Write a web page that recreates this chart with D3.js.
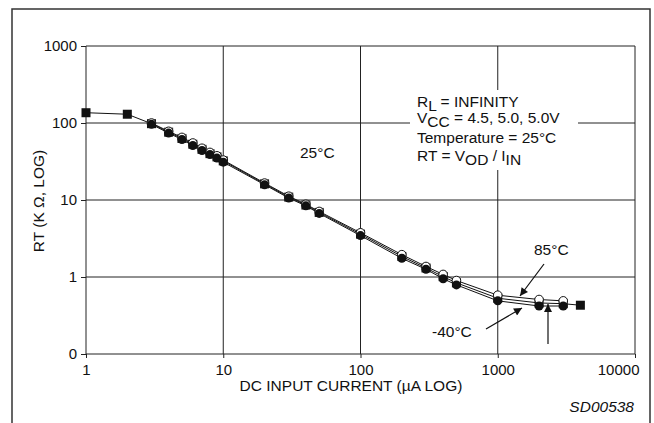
<!DOCTYPE html>
<html>
<head>
<meta charset="utf-8">
<script src="https://d3js.org/d3.v7.min.js"></script>
<style>
  body { margin: 0; background: #fff; }
  text { font-family: "Liberation Sans", Arial, sans-serif; fill: #111; }
</style>
</head>
<body>
<script>
// values (uA in, kOhm out)
const xTicks = [1, 10, 100, 1000, 10000]
const xTickLabels = ['1', '10', '100', '1000', '10000']
const yTicks = [0.1, 1, 10, 100, 1000]
const yTickLabels = ['0', '1', '10', '100', '1000']

const current25 = [1, 2, 3, 4, 5, 6, 7, 8, 9, 10, 20, 30, 40, 50, 100, 200, 300, 400, 500, 1000, 2000, 3000, 4000]
const rt25 = [136, 130, 98, 76, 63, 53, 45.5, 40, 36.3, 32.2, 16.2, 10.9, 8.6, 6.9, 3.6, 1.85, 1.31, 1.01, 0.84, 0.53, 0.46, 0.45, 0.43]

const currentCircles = [3, 4, 5, 6, 7, 8, 9, 10, 20, 30, 40, 50, 100, 200, 300, 400, 500, 1000, 2000, 3000]
const rt85 = [100, 78, 65, 55, 47, 41.5, 37.5, 33, 16.6, 11.2, 8.8, 7.1, 3.75, 1.95, 1.37, 1.08, 0.9, 0.58, 0.51, 0.49]
const rtMinus40 = [96, 74, 61, 51, 44, 39, 35, 31, 15.8, 10.6, 8.4, 6.7, 3.45, 1.75, 1.26, 0.95, 0.79, 0.49, 0.42, 0.42]

const W = 654, H = 423
const FS = 15.5
const svg = d3.select('body').append('svg')
    .attr('width', W)
    .attr('height', H)

// outer frame (bottom edge runs off the picture)
svg.append('path')
    .attr('d', `M12,${H + 5} L12,9 L650,9 L650,${H + 5}`)
    .attr('fill', 'none')
    .attr('stroke', '#333')
    .attr('stroke-width', 1.5)

const x = d3.scaleLog().domain([1, 10000]).range([86, 635])
const y = d3.scaleLog().domain([0.1, 1000]).range([354, 46])

// grid
const grid = svg.append('g').attr('stroke', '#222').attr('stroke-width', 1)
grid.selectAll('.v').data(xTicks).enter().append('line')
    .attr('x1', d => x(d)).attr('x2', d => x(d))
    .attr('y1', y(1000)).attr('y2', y(0.1))
grid.selectAll('.h').data(yTicks).enter().append('line')
    .attr('x1', x(1)).attr('x2', x(10000))
    .attr('y1', d => y(d)).attr('y2', d => y(d))

// axes
const xAxis = svg.append('g')
    .attr('transform', `translate(0,${y(0.1)})`)
    .call(d3.axisBottom(x).tickValues(xTicks).tickFormat((d, i) => xTickLabels[i]).tickSizeOuter(0).tickSize(4).tickPadding(6))
const yAxis = svg.append('g')
    .attr('transform', `translate(${x(1)},0)`)
    .call(d3.axisLeft(y).tickValues(yTicks).tickFormat((d, i) => yTickLabels[i]).tickSizeOuter(0).tickSize(5).tickPadding(4))
;[xAxis, yAxis].forEach(a => {
    a.select('.domain').remove()
    a.selectAll('line').attr('stroke', '#222')
    a.selectAll('text').attr('font-size', 15).attr('fill', '#111')
        .attr('font-family', '"Liberation Sans", Arial, sans-serif')
})
// the last x label sits left of its tick, inside the frame
xAxis.selectAll('.tick').filter(d => d === 10000).select('text')
    .attr('text-anchor', 'end').attr('x', 4)

// white patch under the conditions text
svg.append('rect')
    .attr('x', 410).attr('y', 90).attr('width', 168).attr('height', 80)
    .attr('fill', '#fff')

const note = svg.append('g').attr('font-size', FS)
function noteLine(yPos, parts) {
    const t = note.append('text').attr('x', 417).attr('y', yPos)
    parts.forEach(p => {
        t.append('tspan')
            .attr('dy', p[1])
            .text(p[0])
    })
}
noteLine(107, [['R', 0], ['L', 4], [' = INFINITY', -4]])
noteLine(123, [['V', 0], ['CC', 4], [' = 4.5, 5.0, 5.0V', -4]])
noteLine(143, [['Temperature = 25°C', 0]])
noteLine(161, [['RT = V', 0], ['OD', 4], [' / I', -4], ['IN', 4]])

// curves
const line = d3.line().x(d => x(d[0])).y(d => y(d[1]))
const s25 = current25.map((c, i) => [c, rt25[i]])
const s85 = currentCircles.map((c, i) => [c, rt85[i]])
const sM40 = currentCircles.map((c, i) => [c, rtMinus40[i]])

const curves = svg.append('g').attr('fill', 'none').attr('stroke', '#111').attr('stroke-width', 1)
;[s85, s25, sM40].forEach(s => curves.append('path').attr('d', line(s)))

svg.selectAll('.sq').data(s25).enter().append('rect')
    .attr('x', d => x(d[0]) - 4.5).attr('y', d => y(d[1]) - 4.5)
    .attr('width', 9).attr('height', 9)
    .attr('fill', '#111')
svg.selectAll('.open').data(s85).enter().append('circle')
    .attr('cx', d => x(d[0])).attr('cy', d => y(d[1]))
    .attr('r', 4.3)
    .attr('fill', '#fff').attr('stroke', '#111').attr('stroke-width', 1)
svg.selectAll('.filled').data(sM40).enter().append('circle')
    .attr('cx', d => x(d[0])).attr('cy', d => y(d[1]))
    .attr('r', 4.5)
    .attr('fill', '#111')

// labels and arrows
svg.append('defs').append('marker')
    .attr('id', 'head').attr('viewBox', '0 0 10 10')
    .attr('refX', 10).attr('refY', 5)
    .attr('markerWidth', 13).attr('markerHeight', 8)
    .attr('markerUnits', 'userSpaceOnUse')
    .attr('orient', 'auto')
    .append('path').attr('d', 'M0,0 L10,5 L0,10 Z').attr('fill', '#111')

const arrows = [
    [544, 264, 520, 296],
    [486, 329, 522, 308],
    [548, 344, 548, 304]
]
svg.selectAll('.arrow').data(arrows).enter().append('line')
    .attr('x1', d => d[0]).attr('y1', d => d[1])
    .attr('x2', d => d[2]).attr('y2', d => d[3])
    .attr('stroke', '#111').attr('stroke-width', 1.2)
    .attr('marker-end', 'url(#head)')

svg.append('text').attr('x', 300).attr('y', 158).attr('font-size', FS).text('25°C')
svg.append('text').attr('x', 534).attr('y', 255).attr('font-size', FS).text('85°C')
svg.append('text').attr('x', 432).attr('y', 337).attr('font-size', FS).text('-40°C')

svg.append('text')
    .attr('x', 351).attr('y', 391)
    .attr('text-anchor', 'middle').attr('font-size', FS)
    .text('DC INPUT CURRENT (µA LOG)')
svg.append('text')
    .attr('transform', 'translate(44,201) rotate(-90)')
    .attr('text-anchor', 'middle').attr('font-size', FS)
    .text('RT (K Ω, LOG)')
svg.append('text')
    .attr('x', 634).attr('y', 412)
    .attr('text-anchor', 'end').attr('font-size', FS)
    .attr('font-style', 'italic')
    .text('SD00538')
</script>
</body>
</html>
